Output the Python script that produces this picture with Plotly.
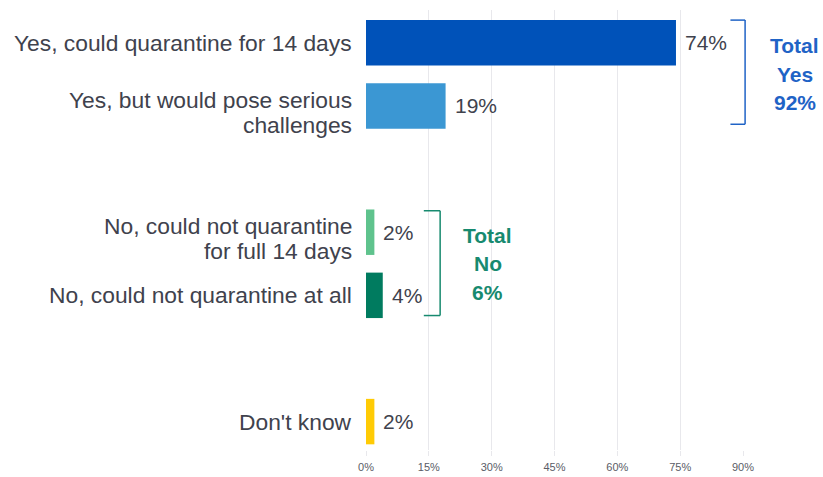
import plotly.graph_objects as go

categories = [
    "Yes, could quarantine for 14 days",
    "Yes, but would pose serious<br>challenges",
    "No, could not quarantine<br>for full 14 days",
    "No, could not quarantine at all",
    "Don't know",
]
values = [74, 19, 2, 4, 2]
positions = [0, 1, 3, 4, 6]
colors = ["#0052b9", "#3b97d3", "#5fc38d", "#007b5f", "#ffcb05"]
tick_vals = [0, 15, 30, 45, 60, 75, 90]
tick_text = ["0%", "15%", "30%", "45%", "60%", "75%", "90%"]

yes_total = ["Total", "Yes", "92%"]
no_total = ["Total", "No", "6%"]
blue = "#1f63c6"
green = "#178a6f"
text_col = "#40424d"
FONT = "Liberation Sans"
XMAX = 90

fig = go.Figure()
fig.add_trace(go.Bar(
    x=values, y=positions, orientation="h",
    marker=dict(color=colors, line=dict(width=0)),
    width=0.72, hoverinfo="skip",
))

annotations = []
# category labels (one annotation per line for tighter line spacing)
for cat, pos in zip(categories, positions):
    lines = cat.split("<br>")
    n = len(lines)
    for i, ln in enumerate(lines):
        annotations.append(dict(
            x=0, xref="paper", y=pos, yref="y", text=ln, showarrow=False,
            xanchor="right", yanchor="middle", xshift=-12,
            yshift=(n - 1) / 2 * 12.5 - i * 25,
            font=dict(size=22.8, color=text_col, family=FONT)))
# value labels
for v, pos in zip(values, positions):
    annotations.append(dict(
        x=v, xref="x", y=pos, yref="y", text=f"{v}%", showarrow=False,
        xanchor="left", yanchor="middle", xshift=7,
        font=dict(size=21, color=text_col, family=FONT)))

def total_text(lines, xdata, ycenter, color):
    out = []
    n = len(lines)
    for i, ln in enumerate(lines):
        out.append(dict(
            x=xdata / XMAX, xref="paper", y=ycenter, yref="y", text=f"<b>{ln}</b>",
            showarrow=False, xanchor="center", yanchor="middle",
            yshift=((n - 1) / 2 - i) * 28.5,
            font=dict(size=21, color=color, family=FONT)))
    return out

annotations += total_text(yes_total, 102.4, (positions[0] + positions[1]) / 2, blue)
annotations += total_text(no_total, 29.1, (positions[2] + positions[3]) / 2, green)

def bracket(x_right, x_left, y_top, y_bot, color):
    xr, xl = x_right / XMAX, x_left / XMAX
    ln = dict(color=color, width=1.5)
    return [
        dict(type="line", xref="paper", yref="y", x0=xr, x1=xr, y0=y_top, y1=y_bot, line=ln),
        dict(type="line", xref="paper", yref="y", x0=xl, x1=xr, y0=y_top, y1=y_top, line=ln),
        dict(type="line", xref="paper", yref="y", x0=xl, x1=xr, y0=y_bot, y1=y_bot, line=ln),
    ]

shapes = bracket(90.5, 87.0, positions[0] - 0.36, positions[1] + 0.29, blue)
shapes += bracket(17.7, 13.8, positions[2] - 0.34, positions[3] + 0.32, green)

fig.update_layout(
    width=823, height=477,
    margin=dict(l=366, r=80, t=10, b=27, autoexpand=False),
    plot_bgcolor="white", paper_bgcolor="white",
    showlegend=False,
    shapes=shapes, annotations=annotations,
    xaxis=dict(range=[0, XMAX], tickvals=tick_vals, ticktext=tick_text,
               showgrid=True, gridcolor="#e8e8ec", gridwidth=1,
               zeroline=False, showline=False, automargin=False,
               ticks="outside", ticklen=5, tickcolor="#e8e8ec",
               ticklabelstandoff=2,
               tickfont=dict(size=11, color="#5a5c66", family=FONT)),
    yaxis=dict(range=[6.45, -0.52], tickvals=positions, showticklabels=False,
               automargin=False,
               showgrid=False, zeroline=False, showline=False, ticks=""),
)

fig.write_html("out.html", config={"displayModeBar": False},
               post_script="document.body.style.margin='0px';document.body.style.overflow='hidden';")
